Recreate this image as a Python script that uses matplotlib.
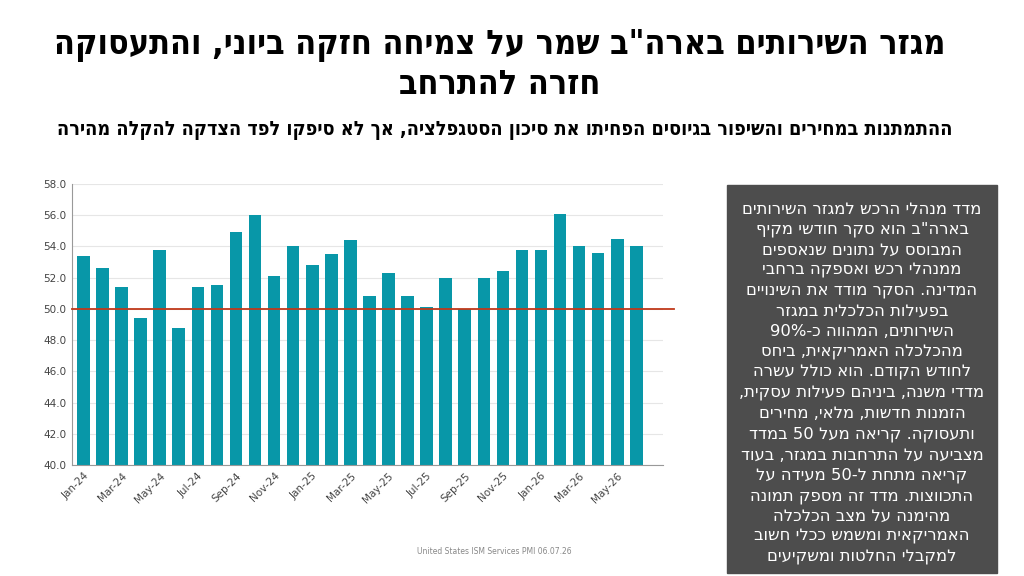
import re
import matplotlib
matplotlib.use("Agg")
import matplotlib.pyplot as plt
from matplotlib.patches import Rectangle

plt.rcParams['font.family'] = ['DejaVu Sans']


def rtl(s):
    # matplotlib has no bidi: flip word order, keep numbers/latin runs as they are
    tokens = re.findall(r'[0-9A-Za-z%.]+|.', s)
    return ''.join(reversed(tokens))


months = ['Jan-24', 'Feb-24', 'Mar-24', 'Apr-24', 'May-24', 'Jun-24',
          'Jul-24', 'Aug-24', 'Sep-24', 'Oct-24', 'Nov-24', 'Dec-24',
          'Jan-25', 'Feb-25', 'Mar-25', 'Apr-25', 'May-25', 'Jun-25',
          'Jul-25', 'Aug-25', 'Sep-25', 'Oct-25', 'Nov-25', 'Dec-25',
          'Jan-26', 'Feb-26', 'Mar-26', 'Apr-26', 'May-26', 'Jun-26']
pmi = [53.4, 52.6, 51.4, 49.4, 53.8, 48.8,
       51.4, 51.5, 54.9, 56.0, 52.1, 54.0,
       52.8, 53.5, 54.4, 50.8, 52.3, 50.8,
       50.1, 52.0, 50.0, 52.0, 52.4, 53.8,
       53.8, 56.1, 54.0, 53.6, 54.5, 54.0]
threshold = 50.0

title_lines = ['מגזר השירותים בארה"ב שמר על צמיחה חזקה ביוני, והתעסוקה',
               'חזרה להתרחב']
subtitle = 'ההתמתנות במחירים והשיפור בגיוסים הפחיתו את סיכון הסטגפלציה, אך לא סיפקו לפד הצדקה להקלה מהירה'
source = 'United States ISM Services PMI 06.07.26'
box_lines = [
    'מדד מנהלי הרכש למגזר השירותים',
    'בארה"ב הוא סקר חודשי מקיף',
    'המבוסס על נתונים שנאספים',
    'ממנהלי רכש ואספקה ברחבי',
    'המדינה. הסקר מודד את השינויים',
    'בפעילות הכלכלית במגזר',
    'השירותים, המהווה כ-90%',
    'מהכלכלה האמריקאית, ביחס',
    'לחודש הקודם. הוא כולל עשרה',
    'מדדי משנה, ביניהם פעילות עסקית,',
    'הזמנות חדשות, מלאי, מחירים',
    'ותעסוקה. קריאה מעל 50 במדד',
    'מצביעה על התרחבות במגזר, בעוד',
    'קריאה מתחת ל-50 מעידה על',
    'התכווצות. מדד זה מספק תמונה',
    'מהימנה על מצב הכלכלה',
    'האמריקאית ומשמש ככלי חשוב',
    'למקבלי החלטות ומשקיעים',
]

fig = plt.figure(figsize=(10.24, 5.76), dpi=100)
ax = fig.add_axes([72 / 1024, 1 - 465 / 576, (663 - 72) / 1024, (465 - 184) / 576])

x = list(range(len(months)))
ax.bar(x, pmi, width=0.66, color='#0897a8', zorder=2)
ax.plot([-0.6, 31.0], [threshold, threshold], color='#c0391b', lw=1.3, zorder=3, clip_on=False)

ax.set_xlim(-0.6, 30.4)
ax.set_ylim(40, 58)
ax.set_yticks([40, 42, 44, 46, 48, 50, 52, 54, 56, 58])
ax.set_yticklabels(['%.1f' % v for v in ax.get_yticks()], fontsize=7.5, color='#444444')
ax.set_xticks(x[::2])
ax.set_xticklabels(months[::2], rotation=45, ha='right', rotation_mode='anchor',
                   fontsize=7.5, color='#444444')
ax.tick_params(length=0, pad=4)
ax.grid(axis='y', color='#e6e6e6', lw=0.8, zorder=0)
for s in ['top', 'right']:
    ax.spines[s].set_visible(False)
ax.spines['left'].set_color('#999999')
ax.spines['bottom'].set_color('#999999')

fig.text(500 / 1024, 1 - 45 / 576, rtl(title_lines[0]), ha='center', va='center',
         fontsize=24.5, fontweight='bold', fontstretch='condensed')
fig.text(500 / 1024, 1 - 84 / 576, rtl(title_lines[1]), ha='center', va='center',
         fontsize=24.5, fontweight='bold', fontstretch='condensed')
fig.text(505 / 1024, 1 - 130 / 576, rtl(subtitle), ha='center', va='center',
         fontsize=14.2, fontweight='bold', fontstretch='condensed')
fig.text(494 / 1024, 1 - 551 / 576, source, ha='center', va='center',
         fontsize=5.5, color='#888888')

fig.patches.append(Rectangle((727 / 1024, 1 - 573 / 576), 270 / 1024, 388 / 576,
                             transform=fig.transFigure, color='#4d4d4d'))
top = 209
step = 20.5
for i, line in enumerate(box_lines):
    fig.text(862 / 1024, 1 - (top + i * step) / 576, rtl(line), ha='center', va='center',
             fontsize=11.8, color='white')

fig.savefig('out.png', dpi=100)
